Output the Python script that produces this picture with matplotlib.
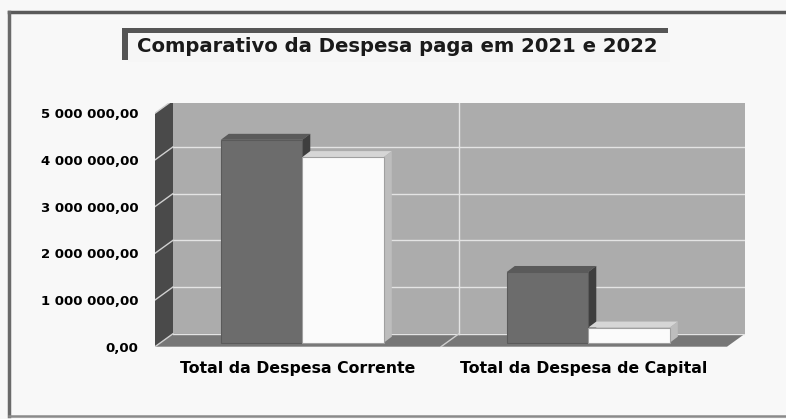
import numpy as np
import matplotlib
matplotlib.use("Agg")
import matplotlib.pyplot as plt
from matplotlib.patches import Polygon, Rectangle
from matplotlib.lines import Line2D

# data
categories = ["Total da Despesa Corrente", "Total da Despesa de Capital"]
years = ["2021", "2022"]
paid_2021 = [4430000, 1600000]
paid_2022 = [4060000, 410000]
y_ticks = [0, 1000000, 2000000, 3000000, 4000000, 5000000]


def fmt_pt(v):
    # portuguese style: space as thousands sep, comma decimal
    s = f"{v:,.2f}"
    return s.replace(",", " ").replace(".", ",")


W, H = 786, 419
fig = plt.figure(figsize=(W / 100, H / 100), dpi=100)
fig.patch.set_facecolor("#f8f8f8")

# outer chart border (top, left, bottom; right runs off the scan)
fig.lines.append(Line2D([9 / W, 1], [1 - 12 / H, 1 - 12 / H], transform=fig.transFigure,
                        color="#5a5a5a", lw=2.5))
fig.lines.append(Line2D([9 / W, 9 / W], [1 - 12 / H, 1 - 416 / H], transform=fig.transFigure,
                        color="#6a6a6a", lw=2.5))
fig.lines.append(Line2D([9 / W, 1], [1 - 416 / H, 1 - 416 / H], transform=fig.transFigure,
                        color="#8a8a8a", lw=1.8))

# title box with dark shadow on top/left
fig.patches.append(Rectangle((122 / W, 1 - 60 / H), 546 / W, 32 / H,
                             transform=fig.transFigure, facecolor="#555555",
                             edgecolor="none"))
fig.patches.append(Rectangle((128 / W, 1 - 62 / H), 542 / W, 29 / H,
                             transform=fig.transFigure, facecolor="#f6f6f6",
                             edgecolor="none"))
fig.text(397 / W, 1 - 46 / H, "Comparativo da Despesa paga em 2021 e 2022",
         ha="center", va="center", fontsize=14.1, fontweight="bold",
         color="#1a1a1a")

# axes placed so that front 0..2 matches the drawing
left, right, top, bottom = 155, 745, 103, 346.7
ax = fig.add_axes([left / W, 1 - bottom / H, (right - left) / W, (bottom - top) / H])
px_x = 286.0          # pixels per category unit
px_y = 46.7 / 1e6     # pixels per value unit
ax.set_xlim(0, (right - left) / px_x)
ax.set_ylim(0, (bottom - top) / px_y)
ax.set_facecolor("none")
for s in ax.spines.values():
    s.set_visible(False)

dx = 18 / px_x
dy = 13 / px_y
n = len(categories)
ymax = y_ticks[-1]

# walls and floor
ax.add_patch(Polygon([(dx, dy), (n + dx, dy), (n + dx, ymax + dy), (dx, ymax + dy)],
                     closed=True, facecolor="#acacac", edgecolor="none", zorder=1))
ax.add_patch(Polygon([(0, 0), (dx, dy), (dx, ymax + dy), (0, ymax)],
                     closed=True, facecolor="#4a4a4a", edgecolor="none", zorder=1))
ax.add_patch(Polygon([(0, 0), (n, 0), (n + dx, dy), (dx, dy)],
                     closed=True, facecolor="#777777", edgecolor="none", zorder=1))

# gridlines on back and side wall
for t in y_ticks:
    ax.plot([dx, n + dx], [t + dy, t + dy], color="#e4e4e4", lw=1, zorder=2)
    ax.plot([0, dx], [t, t + dy], color="#d0d0d0", lw=1, zorder=2)
for k in range(1, n):
    ax.plot([k + dx, k + dx], [dy, ymax + dy], color="#e4e4e4", lw=1, zorder=2)
    ax.plot([k, k + dx], [0, dy], color="#d0d0d0", lw=1, zorder=2)

# bars with fake depth
width = 0.285
centers = np.arange(n) + 0.515
bdx = 8 / px_x
bdy = 6 / px_y
base = 4 / px_y
series = [
    (paid_2021, -width / 2, "#6c6c6c", "#5a5a5a", "#3e3e3e", "#5a5a5a"),
    (paid_2022, width / 2, "#fbfbfb", "#d6d6d6", "#bdbdbd", "#a0a0a0"),
]
for vals, off, front, topc, side, edge in series:
    xs = centers + off
    ax.bar(xs, np.array(vals) - base, width=width, bottom=base, color=front,
           edgecolor=edge, lw=0.8, zorder=4)
    for x, v in zip(xs, vals):
        x0, x1 = x - width / 2, x + width / 2
        ax.add_patch(Polygon([(x0, v), (x1, v), (x1 + bdx, v + bdy), (x0 + bdx, v + bdy)],
                             closed=True, facecolor=topc, edgecolor="none", zorder=3))
        ax.add_patch(Polygon([(x1, base), (x1 + bdx, base + bdy), (x1 + bdx, v + bdy), (x1, v)],
                             closed=True, facecolor=side, edgecolor="none", zorder=3))

ax.set_yticks(y_ticks)
ax.set_yticklabels([fmt_pt(t) for t in y_ticks], fontsize=9.5, fontweight="bold")
ax.set_xticks(np.arange(n) + 0.5)
ax.set_xticklabels(categories, fontsize=11.3, fontweight="bold")
ax.tick_params(axis="y", length=0, pad=12)
ax.tick_params(axis="x", length=0, pad=10)

fig.savefig("out.png", dpi=100, facecolor=fig.get_facecolor())
